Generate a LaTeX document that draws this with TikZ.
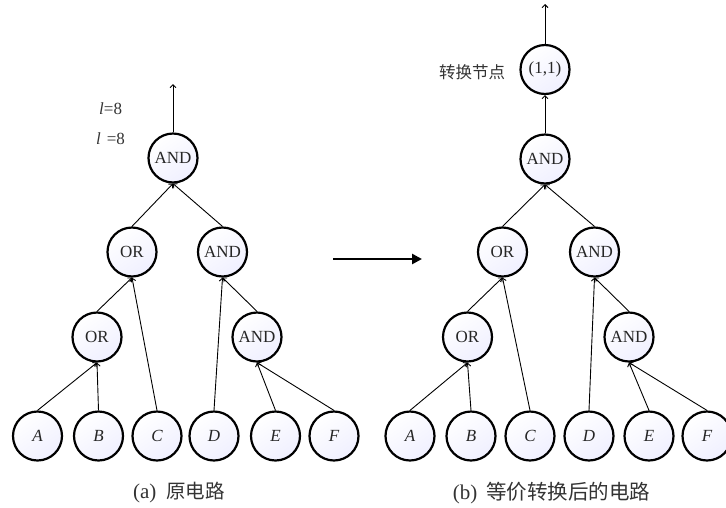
\documentclass[tikz,border=0pt]{standalone}
\usepackage{fontspec}
\setmainfont{Liberation Serif}
\newfontfamily\cjk{Noto Sans CJK SC}
\usetikzlibrary{arrows.meta}
\begin{document}
\begin{tikzpicture}[x=1pt,y=-1pt,
  gate/.style={circle,draw=black,line width=2.2pt,minimum size=49pt,inner sep=0pt,
    top color=white,bottom color=blue!6!white,shading angle=35,
    text=black!85,font=\fontsize{17}{17}\selectfont},
  leaf/.style={gate,font=\fontsize{17}{17}\selectfont\itshape},
  edge/.style={line width=0.9pt,-{Straight Barb[length=3pt,width=6pt]}},
  lbl/.style={text=black!80,inner sep=0pt},
  captxt/.style={lbl,font=\fontsize{21}{21}\selectfont}
]
\useasboundingbox (0,0) rectangle (726,507);
% ---------- left tree ----------
\node[gate] (lAND) at (173,158) {AND};
\node[gate] (lOR2) at (132,252) {OR};
\node[gate] (lAND2) at (222.5,252) {AND};
\node[gate] (lOR3) at (97,337) {OR};
\node[gate] (lAND3) at (257,337) {AND};
\node[leaf] (lA) at (37.5,436) {A};
\node[leaf] (lB) at (98.5,436) {B};
\node[leaf] (lC) at (157,436) {C};
\node[leaf] (lD) at (214,436) {D};
\node[leaf] (lE) at (275.5,436) {E};
\node[leaf] (lF) at (334,436) {F};
\coordinate (lTop) at (173,84);
\draw[edge] (lAND.north) -- (lTop);
\draw[edge] (lOR2.north) -- (lAND.south);
\draw[edge] (lAND2.north) -- (lAND.south);
\draw[edge] (lOR3.north) -- (lOR2.south);
\draw[edge] (lC.north) -- (lOR2.south);
\draw[edge] (lD.north) -- (lAND2.south);
\draw[edge] (lAND3.north) -- (lAND2.south);
\draw[edge] (lA.north) -- (lOR3.south);
\draw[edge] (lB.north) -- (lOR3.south);
\draw[edge] (lE.north) -- (lAND3.south);
\draw[edge] (lF.north) -- (lAND3.south);
\node[lbl,anchor=west,font=\fontsize{17}{17}\selectfont] (l1) at (99,109) {\textit{l}=8};
\node[lbl,anchor=west,font=\fontsize{17}{17}\selectfont] (l2) at (96,139) {\textit{l}\hspace{0.35em}=8};
\node[captxt] (capa) at (179,493) {(a)\hspace{10pt}{\cjk\fontsize{19.5}{19.5}\selectfont 原电路}};
% ---------- middle arrow ----------
\coordinate (mS) at (333,259);
\coordinate (mE) at (422,259);
\draw[line width=2.6pt,-{Triangle[length=10pt,width=10pt]}] (mS) -- (mE);
% ---------- right tree ----------
\node[gate] (r11) at (545,69.5) {(1,1)};
\node[gate] (rAND) at (545,159) {AND};
\node[gate] (rOR2) at (502.5,252) {OR};
\node[gate] (rAND2) at (594.5,252) {AND};
\node[gate] (rOR3) at (467.5,337) {OR};
\node[gate] (rAND3) at (629,337) {AND};
\node[leaf] (rA) at (410,436) {A};
\node[leaf] (rB) at (471,436) {B};
\node[leaf] (rC) at (530,436) {C};
\node[leaf] (rD) at (589,436) {D};
\node[leaf] (rE) at (649,436) {E};
\node[leaf] (rF) at (707,436) {F};
\coordinate (rTop) at (545,4);
\draw[edge] (r11.north) -- (rTop);
\draw[edge] (rAND.north) -- (r11.south);
\draw[edge] (rOR2.north) -- (rAND.south);
\draw[edge] (rAND2.north) -- (rAND.south);
\draw[edge] (rOR3.north) -- (rOR2.south);
\draw[edge] (rC.north) -- (rOR2.south);
\draw[edge] (rD.north) -- (rAND2.south);
\draw[edge] (rAND3.north) -- (rAND2.south);
\draw[edge] (rA.north) -- (rOR3.south);
\draw[edge] (rB.north) -- (rOR3.south);
\draw[edge] (rE.north) -- (rAND3.south);
\draw[edge] (rF.north) -- (rAND3.south);
\node[lbl,font=\fontsize{16.5}{16.5}\selectfont\cjk] (conv) at (472,72) {转换节点};
\node[captxt] (capb) at (551.5,493) {(b)\hspace{9pt}{\cjk\fontsize{20.5}{20.5}\selectfont 等价转换后的电路}};
\end{tikzpicture}
\end{document}
